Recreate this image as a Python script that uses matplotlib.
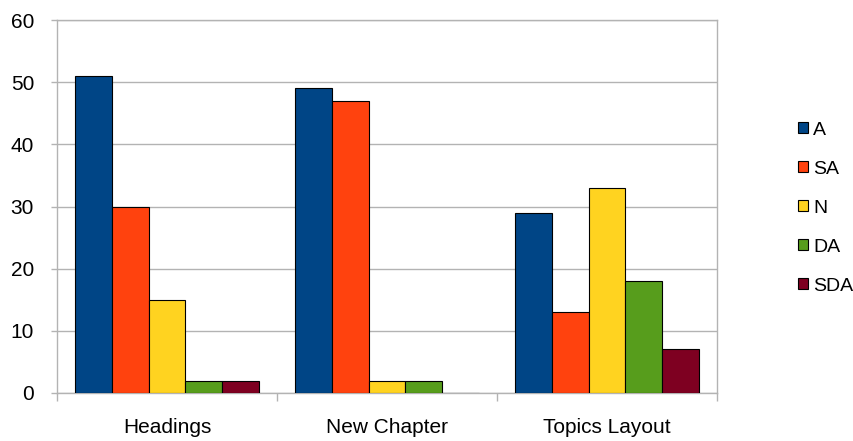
import matplotlib.pyplot as plt
import numpy as np

categorias = ['Headings', 'New Chapter', 'Topics Layout']
respostas = ['A', 'SA', 'N', 'DA', 'SDA']
valores = {
    'A': [51, 49, 29],
    'SA': [30, 47, 13],
    'N': [15, 2, 33],
    'DA': [2, 2, 18],
    'SDA': [2, 0, 7],
}
cores = ['#004586', '#ff420e', '#ffd320', '#579d1c', '#7e0021']

plt.rcParams.update({
    'font.family': ['Liberation Sans', 'DejaVu Sans'],
    'font.size': 15,
})

fig = plt.figure(figsize=(8.54, 4.41), dpi=100)
ax = fig.add_axes([57 / 854, 48 / 441, 660 / 854, 373 / 441])

x = np.arange(len(categorias))
largura = 0.168
for i, (resp, cor) in enumerate(zip(respostas, cores)):
    desloc = (i - 2) * largura
    ax.bar(x + desloc, valores[resp], largura, color=cor, edgecolor='black',
           linewidth=0.8, label=resp, zorder=3)

ax.set_xlim(-0.5, 2.5)
ax.set_ylim(0, 60)
ax.set_yticks(range(0, 61, 10))
ax.grid(axis='y', color='#b3b3b3', linewidth=1, zorder=0)

# rótulos no centro, marcas nas divisões entre categorias
ax.set_xticks(x)
ax.set_xticklabels(categorias)
ax.set_xticks([-0.5, 0.5, 1.5, 2.5], minor=True)
ax.tick_params(axis='x', which='major', length=0, pad=18)
ax.tick_params(axis='x', which='minor', length=6, color='#b3b3b3', width=1)
ax.tick_params(axis='y', length=4.5, color='#b3b3b3', width=1, pad=12)

for s in ax.spines.values():
    s.set_color('#b3b3b3')
    s.set_linewidth(1)

fig.legend(loc='center left', bbox_to_anchor=(0.935, 0.528), frameon=False,
           handlelength=0.5, handleheight=0.5, handletextpad=0.25,
           labelspacing=1.13, fontsize=14, borderaxespad=0, borderpad=0)

plt.savefig('out.png', dpi=100)
